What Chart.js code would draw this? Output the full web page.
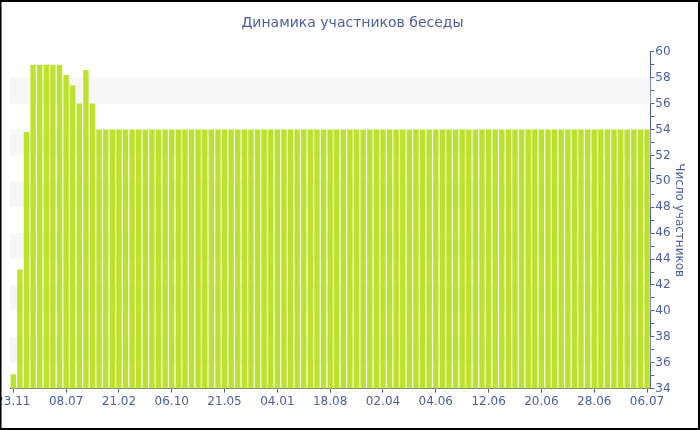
<!DOCTYPE html>
<html>
<head>
<meta charset="utf-8">
<script src="https://cdn.jsdelivr.net/npm/chart.js@4"></script>
<style>
  body { margin: 0; background: #fff; }
  #wrap { position: relative; width: 700px; height: 430px; }
</style>
</head>
<body>
<div id="wrap"><canvas id="myBars"></canvas></div>
<script>
  // dates shown under the axis, one every 8 bars
  const tick_dates = ['23.11', '08.07', '21.02', '06.10', '21.05', '04.01', '18.08',
    '02.04', '04.06', '12.06', '20.06', '28.06', '06.07'];
  const first_values = [35.1, 43.2, 53.8, 59, 59, 59, 59, 59, 58.2, 57.4, 56, 58.6, 56];
  const rest_values = [
    54, 54, 54, 54, 54, 54, 54, 54, 54, 54, 54, 54, 54, 54, 54, 54, 54, 54, 54, 54, 54,
    54, 54, 54, 54, 54, 54, 54, 54, 54, 54, 54, 54, 54, 54, 54, 54, 54, 54, 54, 54, 54,
    54, 54, 54, 54, 54, 54, 54, 54, 54, 54, 54, 54, 54, 54, 54, 54, 54, 54, 54, 54, 54,
    54, 54, 54, 54, 54, 54, 54, 54, 54, 54, 54, 54, 54, 54, 54, 54, 54, 54, 54, 54, 54
  ];
  const members = first_values.concat(rest_values);
  const step = 8;
  const labels = members.map((v, i) => i % step === 0 ? tick_dates[i / step] : '');

  const blue = '#4a5ea6';
  const font_name = '"DejaVu Sans", Verdana, sans-serif';

  // light grey bands behind bars + outer frame
  const bands = {
    id: 'bands',
    beforeDatasetsDraw(chart) {
      const c = chart.ctx, a = chart.chartArea, y = chart.scales.y;
      c.save();
      c.fillStyle = '#f6f6f6';
      for (let v = 36; v < 60; v += 4) {
        const top = y.getPixelForValue(v + 2), bot = y.getPixelForValue(v);
        c.fillRect(a.left, top, a.right - a.left, bot - top);
      }
      c.restore();
    },
    afterDraw(chart) {
      const c = chart.ctx;
      c.save();
      c.strokeStyle = '#000';
      c.lineWidth = 2;
      c.strokeRect(0.5, 1, chart.width - 1.5, chart.height - 2);
      c.restore();
    }
  };

  new Chart(document.getElementById('myBars'), {
    type: 'bar',
    data: {
      labels: labels,
      datasets: [{
        label: 'Число участников',
        data: members,
        backgroundColor: '#bde22d',
        borderWidth: 0,
        barPercentage: 0.82,
        categoryPercentage: 1
      }]
    },
    options: {
      responsive: true,
      maintainAspectRatio: false,
      animation: false,
      layout: { padding: { left: 10, right: 5, top: 6, bottom: 19 } },
      plugins: {
        legend: { display: false },
        tooltip: { enabled: false },
        title: {
          display: true,
          text: 'Динамика участников беседы',
          color: blue,
          font: { family: font_name, size: 14, weight: 'normal' },
          padding: { top: 9, bottom: 20 }
        }
      },
      scales: {
        x: {
          afterFit(s) { s.paddingLeft = 0; s.paddingRight = 0; },
          border: { display: true, color: blue },
          grid: {
            offset: false,
            drawOnChartArea: false,
            tickLength: 4,
            tickColor: (ctx) => ctx.index % step === 0 ? blue : 'rgba(0,0,0,0)'
          },
          ticks: {
            autoSkip: false,
            maxRotation: 0,
            color: blue,
            padding: 2,
            font: { family: font_name, size: 12 }
          }
        },
        y: {
          position: 'right',
          min: 34,
          max: 60,
          border: { display: true, color: blue },
          grid: { drawOnChartArea: false, tickLength: 4, color: blue },
          ticks: {
            stepSize: 1,
            autoSkip: false,
            color: blue,
            padding: 1,
            font: { family: font_name, size: 12 },
            callback: (v) => v % 2 === 0 ? v : ''
          },
          title: {
            display: true,
            text: 'Число участников',
            color: blue,
            font: { family: font_name, size: 12 },
            padding: { top: 9, bottom: 0 }
          }
        }
      }
    },
    plugins: [bands]
  });
</script>
</body>
</html>
